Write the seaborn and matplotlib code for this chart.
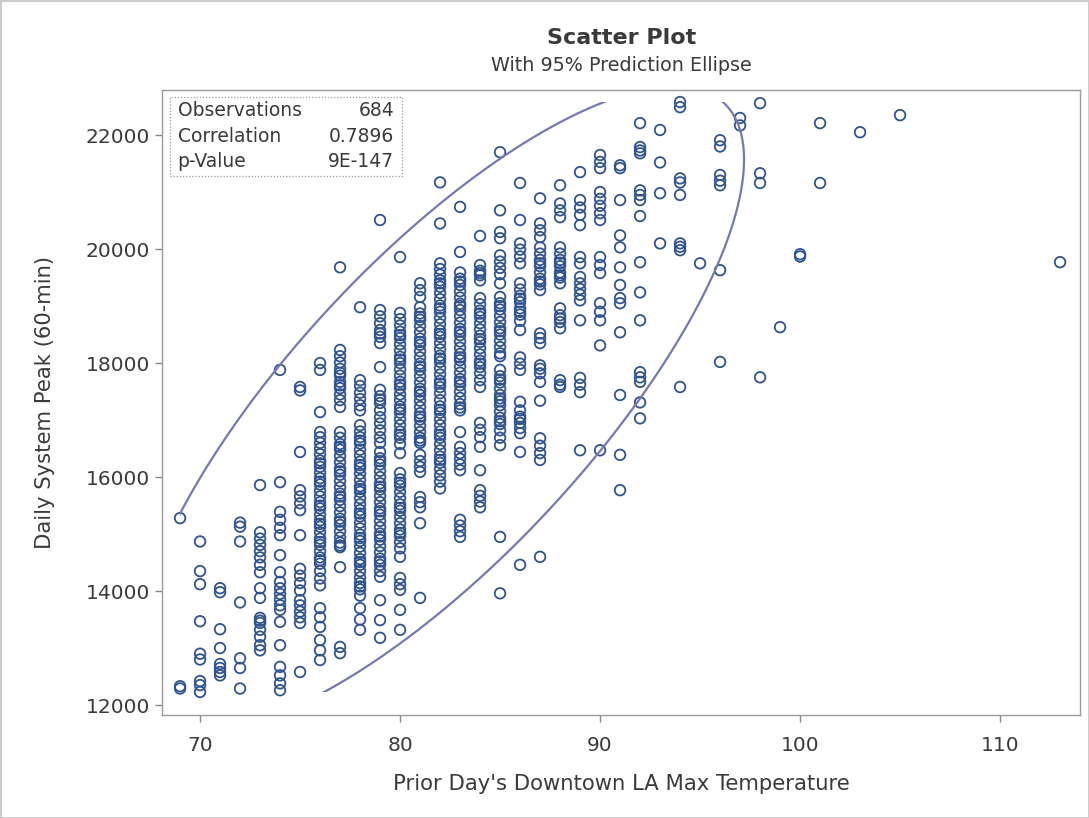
import numpy as np
import pandas as pd
import seaborn as sns
import matplotlib.pyplot as plt
from matplotlib.patches import Rectangle

# Daily peak load (MW), grouped by prior-day max temperature
peaks = {
    69: [15280, 12330, 12290],
    70: [14870, 14350, 14120, 13470, 12900, 12800, 12420, 12350, 12230],
    71: [14050, 13980, 13330, 13000, 12720, 12650, 12580, 12520],
    72: [15200, 15130, 14870, 13800, 12820, 12650, 12290],
    73: [15860, 15030, 14920, 14810, 14700, 14590, 14460, 14330, 14050, 13880,
         13530, 13480, 13440, 13320, 13200, 13050, 12960],
    74: [17880, 15910, 15390, 15250, 15110, 14980, 14630, 14330, 14160, 14050,
         13950, 13850, 13750, 13670, 13460, 13050, 12670, 12520, 12380, 12260],
    75: [17580, 17520, 16440, 15770, 15660, 15540, 15420, 14980, 14390, 14270,
         14140, 14010, 13840, 13750, 13640, 13540, 13440, 12580],
    76: [18000, 17880, 17140, 16790, 16700, 16600, 16500, 16400, 16290, 16240,
         16180, 16080, 15980, 15920, 15870, 15760, 15660, 15560, 15500, 15450,
         15340, 15240, 15180, 15130, 15030, 14920, 14860, 14810, 14700, 14590,
         14540, 14480, 14350, 14220, 14100, 13700, 13540, 13370, 13140, 12960,
         12790],
    77: [19680, 18230, 18120, 18010, 17900, 17830, 17780, 17670, 17610, 17560,
         17450, 17350, 17230, 16790, 16690, 16580, 16530, 16480, 16370, 16260,
         16150, 16100, 16040, 15930, 15820, 15710, 15660, 15600, 15490, 15380,
         15270, 15220, 15160, 15050, 14940, 14850, 14800, 14770, 14420, 13020,
         12910],
    78: [18980, 17700, 17600, 17480, 17370, 17260, 17170, 16910, 16800, 16700,
         16640, 16590, 16480, 16380, 16270, 16210, 16160, 16060, 15950, 15840,
         15790, 15740, 15630, 15520, 15420, 15360, 15310, 15200, 15100, 14990,
         14930, 14880, 14780, 14670, 14560, 14510, 14460, 14350, 14240, 14140,
         14080, 14030, 13920, 13700, 13500, 13320],
    79: [20510, 18930, 18820, 18700, 18580, 18520, 18460, 18350, 17930, 17530,
         17420, 17360, 17300, 17170, 17050, 16940, 16820, 16700, 16600, 16440,
         16330, 16280, 16220, 16110, 16000, 15890, 15830, 15780, 15670, 15560,
         15450, 15400, 15340, 15230, 15120, 15010, 14960, 14900, 14790, 14680,
         14570, 14520, 14460, 14350, 14250, 13840, 13490, 13180],
    80: [19860, 18880, 18770, 18660, 18550, 18490, 18440, 18330, 18220, 18110,
         18060, 18000, 17890, 17780, 17670, 17620, 17560, 17450, 17350, 17240,
         17190, 17130, 17020, 16910, 16800, 16740, 16690, 16580, 16420, 16070,
         15960, 15900, 15850, 15740, 15630, 15520, 15460, 15410, 15300, 15190,
         15080, 15020, 14970, 14860, 14750, 14600, 14230, 14120, 14020, 13670,
         13320],
    81: [19400, 19280, 19160, 18980, 18870, 18810, 18760, 18650, 18540, 18430,
         18370, 18320, 18210, 18100, 17990, 17940, 17880, 17770, 17660, 17550,
         17500, 17440, 17340, 17230, 17120, 17060, 17010, 16900, 16790, 16690,
         16640, 16600, 16390, 16280, 16180, 16090, 15650, 15560, 15470, 15190,
         13880],
    82: [21170, 20450, 19750, 19650, 19550, 19450, 19400, 19340, 19230, 19120,
         19010, 18960, 18900, 18790, 18680, 18570, 18510, 18460, 18350, 18240,
         18130, 18080, 18020, 17910, 17800, 17690, 17640, 17580, 17470, 17350,
         17240, 17180, 17130, 17020, 16910, 16800, 16740, 16690, 16580, 16470,
         16360, 16300, 16250, 16140, 16030, 15920, 15800],
    83: [20740, 19950, 19590, 19480, 19430, 19370, 19260, 19150, 19040, 19000,
         18930, 18820, 18710, 18600, 18550, 18490, 18380, 18270, 18160, 18100,
         18050, 17940, 17830, 17720, 17670, 17610, 17500, 17390, 17280, 17220,
         17170, 16790, 16530, 16420, 16320, 16220, 16120, 15250, 15150, 15050,
         14950],
    84: [20230, 19720, 19620, 19580, 19540, 19450, 19140, 19030, 18920, 18870,
         18810, 18700, 18590, 18480, 18420, 18370, 18260, 18150, 18040, 17990,
         17930, 17820, 17700, 17580, 16950, 16830, 16700, 16530, 16120, 15770,
         15670, 15570, 15470],
    85: [21700, 20680, 20300, 20190, 19890, 19780, 19670, 19560, 19400, 19160,
         19050, 19000, 18940, 18830, 18720, 18610, 18560, 18500, 18390, 18280,
         18170, 18120, 17880, 17770, 17710, 17660, 17550, 17440, 17380, 17330,
         17260, 17150, 17040, 16980, 16930, 16820, 16690, 16560, 14950, 13960],
    86: [21160, 20510, 20100, 19990, 19870, 19750, 19400, 19290, 19180, 19130,
         19070, 18960, 18900, 18850, 18740, 18580, 18100, 17990, 17880, 17320,
         17170, 17060, 17020, 16950, 16860, 16770, 16440, 14460],
    87: [20890, 20450, 20330, 20210, 20030, 19920, 19810, 19750, 19700, 19590,
         19480, 19430, 19380, 19280, 18520, 18440, 18350, 17960, 17900, 17820,
         17670, 17340, 16680, 16550, 16420, 16300, 14600],
    88: [21120, 20800, 20680, 20560, 20030, 19920, 19810, 19760, 19700, 19590,
         19540, 19500, 19400, 18960, 18840, 18780, 18720, 18610, 17700, 17620,
         17580],
    89: [21350, 20860, 20730, 20600, 20420, 19860, 19750, 19510, 19400, 19300,
         19200, 19100, 18750, 17740, 17620, 17490, 16470],
    90: [21650, 21530, 21420, 21000, 20880, 20760, 20630, 20510, 19860, 19720,
         19580, 19050, 18900, 18750, 18310, 16470],
    91: [21470, 21420, 20860, 20240, 20030, 19680, 19370, 19140, 19050, 18540,
         17440, 16390, 15770],
    92: [22210, 21790, 21730, 21680, 21030, 20950, 20860, 20580, 19770, 19240,
         18750, 17840, 17750, 17670, 17310, 17030],
    93: [22090, 21520, 20980, 20100],
    94: [22580, 22490, 21240, 21170, 20950, 20100, 20040, 19980, 17580],
    95: [19750],
    96: [21910, 21800, 21300, 21200, 21120, 19630, 18020],
    97: [22300, 22170],
    98: [22560, 21330, 21160, 17750],
    99: [18630],
    100: [19910, 19870],
    101: [22210, 21160],
    103: [22050],
    105: [22350],
    113: [19770],
}

stat_labels = ["Observations", "Correlation", "p-Value"]
stat_values = ["684", "0.7896", "9E-147"]

rows = [(t, p) for t, vals in peaks.items() for p in vals]
df = pd.DataFrame(rows, columns=["temp", "peak"])

sns.set_style("white")
plt.rcParams['font.family'] = ['DejaVu Sans']

txt = "#3a3a3a"
fig = plt.figure(figsize=(10.89, 8.18), dpi=100)
ax = fig.add_axes([0.1488, 0.1259, 0.843, 0.764])

pt_color = "#30538f"
sns.scatterplot(data=df, x="temp", y="peak", ax=ax, marker="o", s=58,
                facecolors="none", edgecolor=pt_color, linewidth=1.3)

# 95% prediction ellipse from the sample mean and covariance
xy = df[["temp", "peak"]].to_numpy(dtype=float)
mu = xy.mean(axis=0)
cov = np.cov(xy.T)
n = len(xy)
c = np.sqrt(2 * 3.01 * (n - 1) * (n + 1) / (n * (n - 2)))
L = np.linalg.cholesky(cov)
t = np.linspace(0, 2 * np.pi, 400)
ell = mu[:, None] + c * L @ np.vstack([np.cos(t), np.sin(t)])
line, = ax.plot(ell[0], ell[1], color="#7479b5", lw=1.6)
# the ellipse is only drawn inside the range of the data
lo, hi = xy.min(axis=0), xy.max(axis=0)
box = Rectangle(lo, hi[0] - lo[0], hi[1] - lo[1], transform=ax.transData)
line.set_clip_path(box)

ax.set_xlim(68.1, 114)
ax.set_ylim(11825, 22790)
ax.set_xticks([70, 80, 90, 100, 110])
ax.set_yticks([12000, 14000, 16000, 18000, 20000, 22000])
ax.tick_params(axis="both", labelsize=14.5, colors=txt, length=5,
               width=1, direction="out", left=True, bottom=True)
ax.tick_params(axis="x", pad=10)
ax.tick_params(axis="both", color="#888888")
for s in ax.spines.values():
    s.set_color("#9a9a9a")
    s.set_linewidth(1)

ax.set_xlabel("Prior Day's Downtown LA Max Temperature", fontsize=15.2,
              color=txt, labelpad=14)
ax.set_ylabel("Daily System Peak (60-min)", fontsize=15.2, color=txt,
              labelpad=22)

fig.text(0.5705, 0.954, "Scatter Plot", ha="center", va="center",
         fontsize=16, fontweight="bold", color=txt)
fig.text(0.5705, 0.920, "With 95% Prediction Ellipse", ha="center",
         va="center", fontsize=13.8, color=txt)

# statistics inset
ax.add_patch(Rectangle((0.009, 0.862), 0.252, 0.127, transform=ax.transAxes,
                       fill=False, ec="#999999", lw=0.9, ls=(0, (1, 1.5))))
for i, (lab, val) in enumerate(zip(stat_labels, stat_values)):
    yy = 0.967 - i * 0.041
    ax.text(0.017, yy, lab, transform=ax.transAxes, fontsize=13.5,
            color=txt, va="center", ha="left")
    ax.text(0.253, yy, val, transform=ax.transAxes, fontsize=13.5,
            color=txt, va="center", ha="right")

fig.patch.set_edgecolor("#cccccc")
fig.patch.set_linewidth(2)

fig.savefig("out.png", dpi=100, edgecolor=fig.get_edgecolor())
